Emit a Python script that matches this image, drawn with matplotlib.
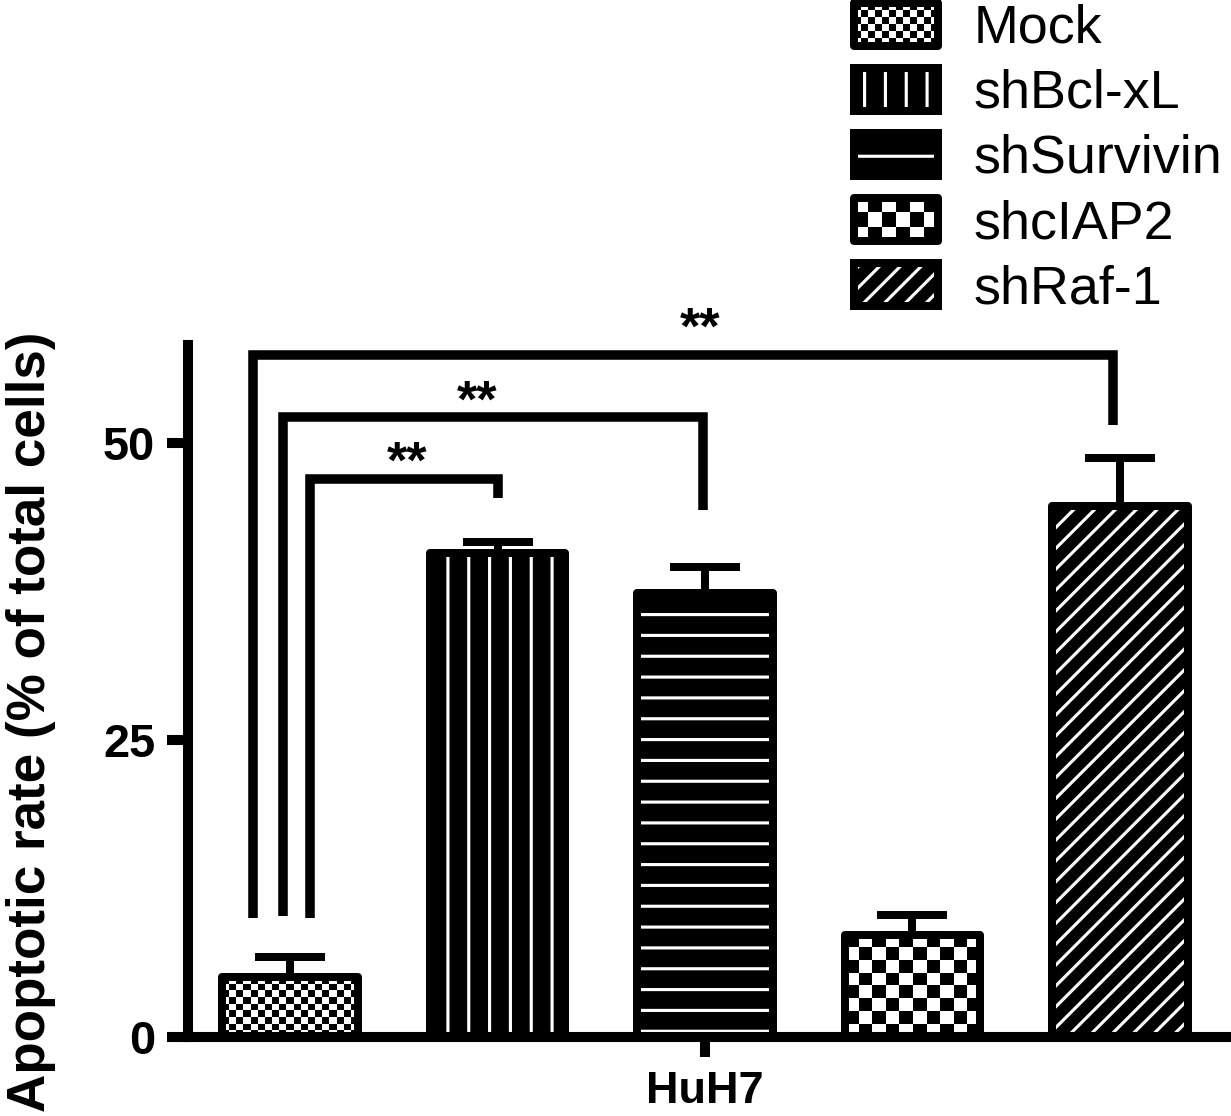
import matplotlib
matplotlib.use("Agg")
import matplotlib.pyplot as plt
import numpy as np
from matplotlib.patches import Rectangle, Patch
from matplotlib.legend_handler import HandlerBase, HandlerTuple

plt.rcParams["font.family"] = ["Liberation Sans", "DejaVu Sans"]
plt.rcParams["hatch.linewidth"] = 1.8

DPI = 125

# data
groups = ["Mock", "shBcl-xL", "shSurvivin", "shcIAP2", "shRaf-1"]
means = [5.05, 40.7, 37.4, 8.6, 44.7]
sems = [1.65, 1.0, 2.2, 1.7, 4.0]
cell_line = "HuH7"
y_ticks = [0, 25, 50]

# significance brackets (outer -> inner)
bracket_x0 = [-0.178, -0.034, 0.096]
bracket_x1 = [3.966, 1.99, 1.0]
bracket_top = [57.4, 52.2, 47.0]
bracket_left_end = [10.0, 10.2, 10.0]
bracket_right_end = [51.5, 44.4, 45.4]
star_x = [1.976, 0.90, 0.564]
star_y = [58.4, 52.2, 47.1]
star_text = ["**", "**", "**"]

HATCH = {"shBcl-xL": "|", "shSurvivin": "-", "shRaf-1": "//"}
CHECKER = {"Mock": 7, "shcIAP2": 13.5}  # cell size in px

LW = 4.6
W = 0.655


class CheckerHandler(HandlerBase):
    def __init__(self, cell_px):
        super().__init__()
        self.cell = cell_px * 72 / DPI

    def create_artists(self, legend, orig_handle, xdescent, ydescent,
                       width, height, fontsize, trans):
        x0, y0 = -xdescent, -ydescent
        arts = [Rectangle((x0, y0), width, height, fc="white", ec="none",
                          transform=trans)]
        ncol = max(1, int(round(width / self.cell)))
        nrow = max(1, int(round(height / self.cell)))
        cw, ch = width / ncol, height / nrow
        for i in range(nrow):
            for j in range(ncol):
                if (i + j) % 2:
                    arts.append(Rectangle((x0 + j * cw, y0 + i * ch), cw, ch,
                                          fc="black", ec="none",
                                          transform=trans))
        arts.append(Rectangle((x0, y0), width, height, fill=False,
                              ec="black", lw=LW, joinstyle="round",
                              transform=trans))
        return arts


fig = plt.figure(figsize=(1231 / DPI, 1116 / DPI), dpi=DPI)
ax = fig.add_axes([188 / 1231, 1 - 1037 / 1116, 1 - 188 / 1231, (1037 - 345) / 1116])
XLIM = (-0.4916, 4.535)
YLIM = (0, 58.25)
ax.set_xlim(*XLIM)
ax.set_ylim(*YLIM)

x = np.arange(len(groups))

ax.errorbar(x, means, yerr=[np.zeros(len(x)), sems], fmt="none", ecolor="black",
            elinewidth=LW, capsize=20, capthick=LW, zorder=1)

base = ax.bar(x, means, W, color="white", linewidth=0, zorder=2)
p = ax.transData.transform([(0, 0), (1, 1)])
sx, sy = p[1] - p[0]
for g, patch in zip(groups, base):
    if g in HATCH:
        patch.set_facecolor("black")
        patch.set_edgecolor("white")
        patch.set_hatch(HATCH[g])
    else:
        cell = CHECKER[g]
        h = patch.get_height()
        ncol = max(1, int(round(W * sx / cell)))
        nrow = max(1, int(round(h * sy / cell)))
        board = np.add.outer(np.arange(nrow), np.arange(ncol)) % 2
        im = ax.imshow(board, cmap="gray", interpolation="nearest", aspect="auto",
                       extent=(patch.get_x(), patch.get_x() + W, 0, h), zorder=2.5)
        im.set_clip_path(patch)

ax.bar(x, means, W, fill=False, edgecolor="black", linewidth=LW, zorder=3,
       joinstyle="round")
ax.set_xlim(*XLIM)
ax.set_ylim(*YLIM)

# brackets
for x0, x1, top, le, re in zip(bracket_x0, bracket_x1, bracket_top,
                               bracket_left_end, bracket_right_end):
    ax.plot([x0, x0, x1, x1], [le, top, top, re], color="black", lw=5.5,
            solid_joinstyle="miter", solid_capstyle="butt", clip_on=False, zorder=4)
for tx, ty, t in zip(star_x, star_y, star_text):
    ax.text(tx, ty, t, ha="center", va="baseline", fontsize=30,
            fontweight="bold", clip_on=False)

# axes styling
for s in ["top", "right"]:
    ax.spines[s].set_visible(False)
for s in ["left", "bottom"]:
    ax.spines[s].set_linewidth(5.8)
ax.set_yticks(y_ticks)
ax.tick_params(axis="y", length=12, width=5.8, labelsize=27, pad=7)
for lbl in ax.get_yticklabels():
    lbl.set_fontweight("bold")
ax.set_xticks([(len(groups) - 1) / 2])
ax.set_xticklabels([cell_line], fontsize=26, fontweight="bold")
ax.tick_params(axis="x", length=11.5, width=5.8, pad=8)

fig.text(31 / 1231, 1 - 722 / 1116, "Apoptotic rate (% of total cells)",
         rotation=90, ha="center", va="center", fontsize=30.5, fontweight="bold")

# legend
handles = []
hmap = {}
for g in groups:
    if g in CHECKER:
        hd = Patch(fc="white")
        hmap[hd] = CheckerHandler(CHECKER[g])
    else:
        hd = (Patch(fc="black", ec="white", hatch=HATCH[g], lw=0),
              Patch(fill=False, ec="black", lw=LW, joinstyle="round"))
    handles.append(hd)
hmap[tuple] = HandlerTuple(ndivide=1, pad=0)
fig.legend(handles, groups, handler_map=hmap, loc="upper left",
           bbox_to_anchor=(851 / 1231, 1.0), frameon=False, borderpad=0.05,
           borderaxespad=0, fontsize=31, handlelength=1.57, handleheight=0.85,
           handletextpad=0.65, labelspacing=0.26)

fig.savefig("out.png", dpi=DPI)
